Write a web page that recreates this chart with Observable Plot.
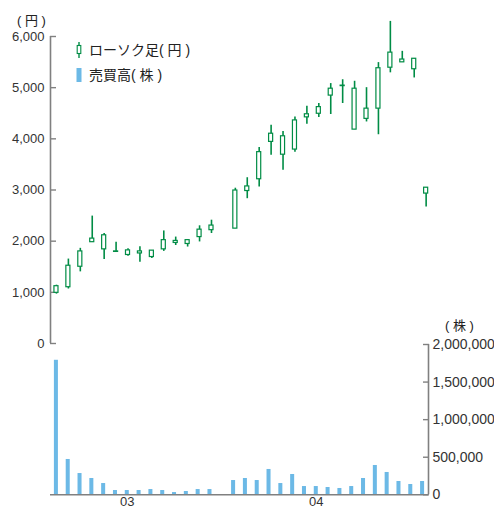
<!DOCTYPE html>
<html><head><meta charset="utf-8">
<script src="https://cdn.jsdelivr.net/npm/d3@7"></script>
<script src="https://cdn.jsdelivr.net/npm/@observablehq/plot@0.6"></script>
<style>
html,body{margin:0;padding:0;background:#fff;}
#wrap{position:relative;width:494px;height:509px;overflow:hidden;font-family:"Liberation Sans",Arial,sans-serif;}
#wrap svg{position:absolute;left:0;top:0;background:transparent;overflow:visible;}
.jp{position:absolute;font-family:"Liberation Sans","Noto Sans CJK JP",sans-serif;color:#222;white-space:pre;line-height:1;}
.leg{position:absolute;display:flex;align-items:center;}
</style>
</head><body>
<div id="wrap"></div>
<script>
// slot index (slot 14 has no trading data)
const slots = [0,1,2,3,4,5,6,7,8,9,10,11,12,13,14,15,16,17,18,19,20,21,22,23,24,25,26,27,28,29,30,31];
const open  = [990,1100,1500,1980,1840,1790,1730,1760,1690,1840,1965,1945,2080,2215,null,2245,2980,3210,3940,3690,3790,4420,4490,4845,5030,4180,4390,4590,5390,5495,5360,2930];
const high  = [1140,1650,1860,2490,2150,1980,1850,1890,1820,2200,2080,2025,2300,2410,null,3035,3240,3830,4265,4145,4425,4635,4690,5080,5155,5125,5000,5490,6295,5710,5570,3050];
const low   = [965,1065,1400,1975,1640,1780,1705,1590,1660,1800,1915,1885,1985,2150,null,2245,2830,3060,3680,3385,3740,4285,4415,4475,4690,4180,4330,4080,5290,5495,5190,2670];
const close = [1120,1520,1800,2050,2115,1800,1820,1800,1815,2020,2005,2020,2225,2305,null,2990,3070,3740,4100,4050,4360,4480,4620,4980,5040,4980,4590,5380,5685,5550,5565,3045];
const volume = [1790000,470000,283000,217000,150000,57000,57000,57000,70000,57000,30000,44000,70000,70000,null,190000,217000,190000,337000,150000,270000,110000,110000,97000,84000,110000,217000,390000,297000,177000,137000,177000];
const priceTicks = [0,1000,2000,3000,4000,5000,6000];
const volumeTicks = [0,500000,1000000,1500000,2000000];
const xTickPos = [6,22];
const xTickLabels = ["03","04"];
const legendLabels = ["ローソク足( 円 )","売買高( 株 )"];
const priceUnit = "( 円 )";
const volumeUnit = "( 株 )";

const GREEN = "#008c45";
const BLUE = "#6cb9e6";
const AXIS = "#808080";
const TEXT = "#333";

const priceRows = slots.map((s,k)=>({i:s,o:open[k],h:high[k],l:low[k],c:close[k]})).filter(d=>d.o!=null);
const volRows = slots.map((s,k)=>({i:s,v:volume[k]})).filter(d=>d.v!=null);
const fmt = d3.format(",");

const pricePlot = Plot.plot({
  width:494, height:360,
  marginLeft:50, marginRight:62.4, marginTop:36, marginBottom:17,
  x:{domain:[-0.5,31.5], axis:null},
  y:{domain:[0,6000], axis:null},
  style:{background:"transparent", fontFamily:"Liberation Sans, Arial, sans-serif", fontSize:"13px", overflow:"visible"},
  marks:[
    Plot.ruleX([-0.5], {stroke:AXIS, strokeWidth:1.6}),
    Plot.axisY(priceTicks, {anchor:"left", label:null, tickSize:6, insetLeft:6, tickPadding:6, tickFormat:fmt, stroke:AXIS, fill:TEXT, strokeWidth:1.4, fontSize:13}),
    Plot.ruleX(priceRows, {x:"i", y1:"l", y2:"h", stroke:GREEN, strokeWidth:1.6}),
    Plot.rect(priceRows, {x1:d=>d.i-0.17, x2:d=>d.i+0.17, y1:"o", y2:"c", fill:"white", stroke:GREEN, strokeWidth:1.2})
  ]
});

const volPlot = Plot.plot({
  width:494, height:540,
  marginLeft:50, marginRight:66, marginTop:344, marginBottom:45.7,
  x:{domain:[-0.5,31.5], axis:null},
  y:{domain:[0,2000000], axis:null},
  style:{background:"transparent", fontFamily:"Liberation Sans, Arial, sans-serif", fontSize:"13px", overflow:"visible"},
  marks:[
    Plot.rect(volRows, {x1:d=>d.i-0.17, x2:d=>d.i+0.17, y1:d=>0, y2:"v", fill:BLUE}),
    Plot.ruleY([0], {stroke:AXIS, strokeWidth:1.6}),
    Plot.ruleX([31.5], {stroke:AXIS, strokeWidth:1.6}),
    Plot.axisY(volumeTicks, {anchor:"right", label:null, tickSize:6, insetRight:6, tickPadding:4, tickFormat:fmt, stroke:AXIS, fill:TEXT, strokeWidth:1.4, fontSize:14}),
    Plot.axisX(xTickPos, {anchor:"bottom", label:null, tickSize:0, tickPadding:1.5, tickFormat:(d,k)=>xTickLabels[k], fill:TEXT, fontSize:13})
  ]
});

const wrap = document.getElementById("wrap");
wrap.appendChild(pricePlot);
wrap.appendChild(volPlot);

function addText(txt, left, top, size){
  const el = document.createElement("div");
  el.className = "jp";
  el.textContent = txt;
  el.style.left = left+"px"; el.style.top = top+"px"; el.style.fontSize = size+"px";
  wrap.appendChild(el);
  return el;
}
addText(priceUnit, 17, 14, 13);
addText(volumeUnit, 445, 319, 13);

// legend
const ns = "http://www.w3.org/2000/svg";
function icon(kind){
  const s = document.createElementNS(ns,"svg");
  s.setAttribute("width",8); s.setAttribute("height",16);
  s.style.position="static";
  if(kind==="candle"){
    s.innerHTML = `<line x1="4" x2="4" y1="0" y2="16" stroke="${GREEN}" stroke-width="1.4"/><rect x="2.2" y="3.5" width="3.6" height="8" fill="white" stroke="${GREEN}" stroke-width="1.1"/>`;
  } else {
    s.innerHTML = `<rect x="1.5" y="1" width="5" height="14" fill="${BLUE}"/>`;
  }
  return s;
}
[["candle",42],["bar",67]].forEach(([k,top],j)=>{
  const row = document.createElement("div");
  row.className="leg";
  row.style.left="75px"; row.style.top=top+"px";
  row.appendChild(icon(k));
  const t = document.createElement("span");
  t.className="jp"; t.style.position="static"; t.style.fontSize="14px"; t.style.marginLeft="6px";
  t.textContent = legendLabels[j];
  row.appendChild(t);
  wrap.appendChild(row);
});
</script>
</body></html>
